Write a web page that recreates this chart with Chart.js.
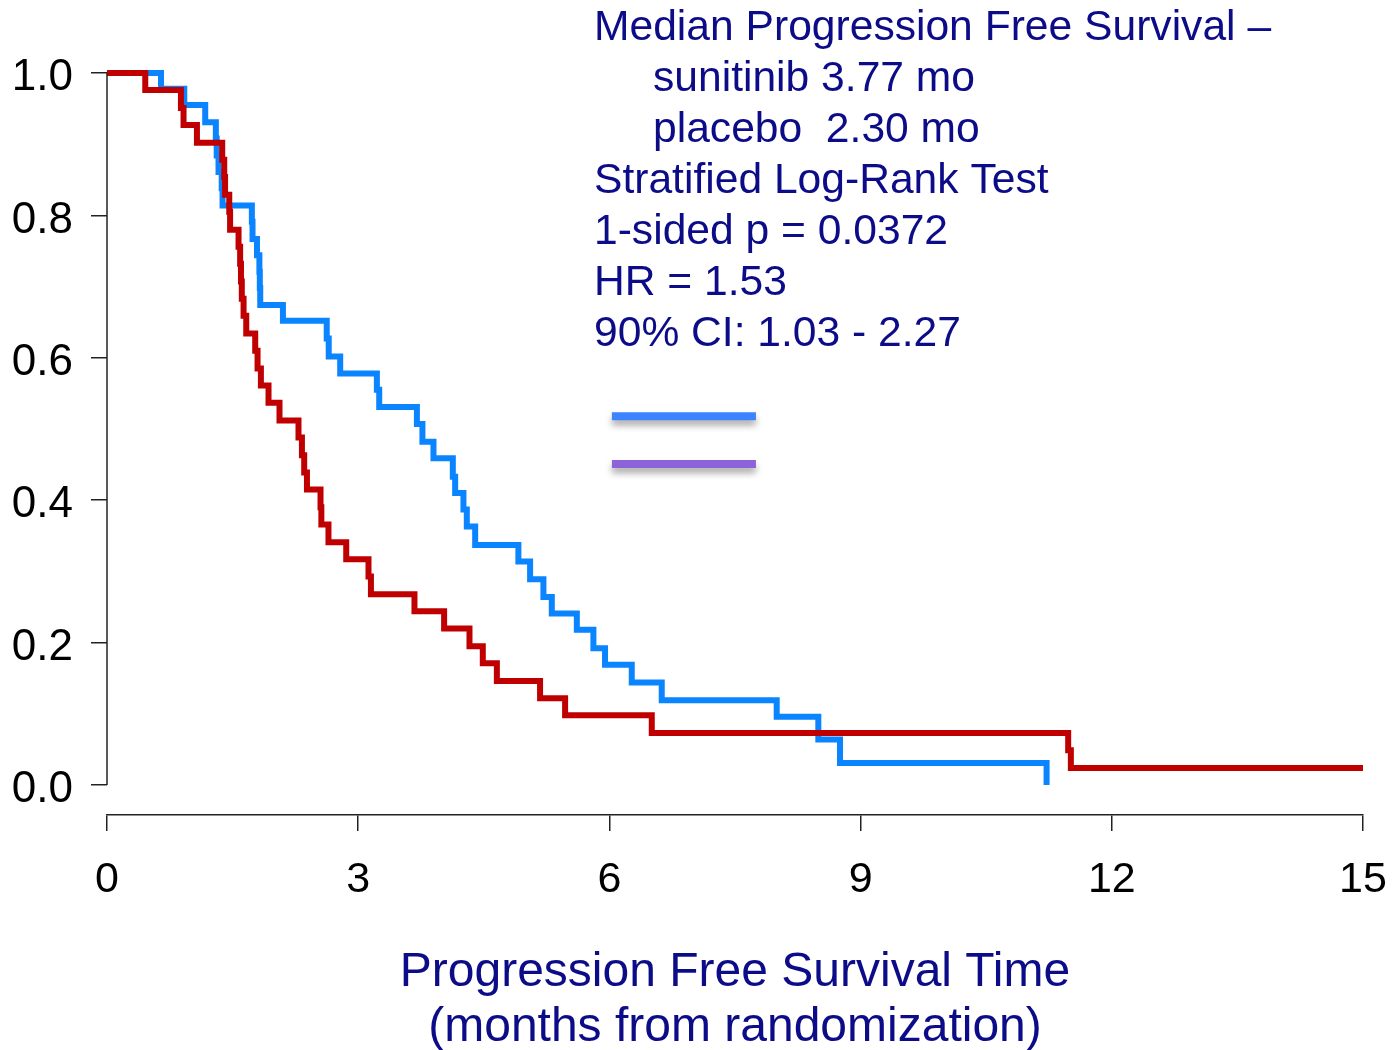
<!DOCTYPE html>
<html>
<head>
<meta charset="utf-8">
<script src="https://cdn.jsdelivr.net/npm/chart.js@4"></script>
<style>
  html, body { margin: 0; padding: 0; background: #fff; }
</style>
</head>
<body>
<canvas id="myChart" width="1394" height="1050"></canvas>
<script>
// Kaplan-Meier curves (months, survival)
const redTime = [0, 0.457, 0.883, 0.914, 1.074, 1.376, 1.40, 1.41, 1.46, 1.47, 1.571, 1.59, 1.60, 1.61, 1.631, 1.663,
  1.770, 1.798, 1.838, 1.929, 2.060, 2.287, 2.328, 2.355, 2.388, 2.55, 2.56, 2.645, 2.857, 3.123, 3.152, 3.672,
  4.026, 4.329, 4.488, 4.656, 5.172, 5.471, 6.506, 11.479, 11.511, 15.0];
const redSurv = [1.0, 0.976, 0.951, 0.927, 0.902, 0.878, 0.854, 0.829, 0.805, 0.780, 0.756, 0.732, 0.707, 0.683, 0.659, 0.634,
  0.610, 0.585, 0.561, 0.537, 0.512, 0.488, 0.463, 0.439, 0.415, 0.390, 0.366, 0.341, 0.317, 0.293, 0.268, 0.244,
  0.220, 0.195, 0.171, 0.146, 0.122, 0.098, 0.073, 0.049, 0.024, 0.024];

const blueTime = [0, 0.645, 0.923, 1.173, 1.30, 1.31, 1.332, 1.37, 1.38, 1.73, 1.738, 1.791, 1.82, 1.825, 1.830, 2.101,
  2.624, 2.648, 2.785, 3.223, 3.251, 3.701, 3.767, 3.899, 4.130, 4.158, 4.257, 4.297, 4.397, 4.913, 5.053, 5.212,
  5.312, 5.611, 5.809, 5.948, 6.267, 6.625, 7.998, 8.495, 8.754, 11.221];
const blueSurv = [1.0, 0.978, 0.955, 0.931, 0.908, 0.884, 0.861, 0.838, 0.814, 0.791, 0.767, 0.744, 0.721, 0.698, 0.674, 0.652,
  0.627, 0.602, 0.578, 0.555, 0.531, 0.507, 0.482, 0.459, 0.433, 0.410, 0.387, 0.363, 0.337, 0.314, 0.289, 0.264,
  0.241, 0.218, 0.192, 0.169, 0.144, 0.119, 0.096, 0.064, 0.031, 0.0];

// the two short coloured bars under the text
const barX = [6.03, 7.75];
const barBlueY = [0.518, 0.518];
const barPurpleY = [0.451, 0.451];

const xTicks = [0, 3, 6, 9, 12, 15];
const yTicks = [0, 0.2, 0.4, 0.6, 0.8, 1.0];

const noteLines = [
  'Median Progression Free Survival \u2013',
  'sunitinib 3.77 mo',
  'placebo  2.30 mo',
  'Stratified Log-Rank Test',
  '1-sided p = 0.0372',
  'HR = 1.53',
  '90% CI: 1.03 - 2.27'
];
const noteIndent = [0, 1, 1, 0, 0, 0, 0];

const xTitle = ['Progression Free Survival Time', '(months from randomization)'];

const FONT = '"Liberation Sans", Arial, sans-serif';
const NAVY = '#0c0c88';

const toPts = (xs, ys) => xs.map((x, i) => ({ x: x, y: ys[i] }));

// y axis line only over 0..1, bar shadows and the text block
const extras = {
  id: 'extras',
  beforeDatasetDraw(chart, args) {
    if (args.index >= 2) {
      const ctx = chart.ctx;
      ctx.save();
      ctx.shadowColor = 'rgba(0,0,0,0.35)';
      ctx.shadowBlur = 7;
      ctx.shadowOffsetY = 5;
    }
  },
  afterDatasetDraw(chart, args) {
    if (args.index >= 2) chart.ctx.restore();
  },
  afterDraw(chart) {
    const ctx = chart.ctx;
    const y = chart.scales.y;
    const left = chart.chartArea.left;
    ctx.save();
    ctx.strokeStyle = '#222';
    ctx.lineWidth = 1.5;
    ctx.beginPath();
    ctx.moveTo(left, y.getPixelForValue(1));
    ctx.lineTo(left, y.getPixelForValue(0));
    ctx.stroke();

    ctx.fillStyle = NAVY;
    ctx.font = '42.6px ' + FONT;
    ctx.textBaseline = 'middle';
    ctx.textAlign = 'left';
    noteLines.forEach((t, i) => {
      ctx.fillText(t, 594 + noteIndent[i] * 59, 28 + i * 51);
    });
    ctx.restore();
  }
};

new Chart(document.getElementById('myChart'), {
  type: 'line',
  data: {
    datasets: [
      { label: 'placebo', data: toPts(redTime, redSurv), borderColor: '#c00000', borderWidth: 6, stepped: true, pointRadius: 0, clip: false },
      { label: 'sunitinib', data: toPts(blueTime, blueSurv), borderColor: '#0a84ff', borderWidth: 6, stepped: true, pointRadius: 0, clip: false },
      { label: 'bar1', data: toPts(barX, barBlueY), borderColor: '#3d82ff', borderWidth: 8, pointRadius: 0, clip: false },
      { label: 'bar2', data: toPts(barX, barPurpleY), borderColor: '#8e62d8', borderWidth: 8, pointRadius: 0, clip: false }
    ]
  },
  options: {
    responsive: false,
    animation: false,
    devicePixelRatio: 1,
    layout: { padding: { top: 73, right: 31, bottom: 0, left: 0 } },
    plugins: { legend: { display: false }, tooltip: { enabled: false } },
    scales: {
      x: {
        type: 'linear',
        min: 0,
        max: 15,
        afterBuildTicks: s => { s.ticks = xTicks.map(v => ({ value: v })); },
        afterFit: s => { s.height = 235; s.paddingLeft = 0; s.paddingRight = 0; },
        ticks: { color: '#000', font: { family: FONT, size: 43 }, padding: 23, maxRotation: 0 },
        grid: { drawOnChartArea: false, drawTicks: true, tickLength: 16, color: '#222', lineWidth: 1.5 },
        border: { display: true, color: '#222', width: 1.5 },
        title: {
          display: true,
          text: xTitle,
          color: NAVY,
          font: { family: FONT, size: 48, lineHeight: 1.146 },
          padding: { top: 0, bottom: -5 }
        }
      },
      y: {
        type: 'linear',
        min: -0.0421,
        max: 1.0,
        afterBuildTicks: s => { s.ticks = yTicks.map(v => ({ value: v })); },
        afterFit: s => { s.width = 107; s.paddingTop = 0; s.paddingBottom = 0; },
        ticks: { color: '#000', font: { family: FONT, size: 44 }, padding: 18, labelOffset: 5, callback: v => v.toFixed(1) },
        grid: { drawOnChartArea: false, drawTicks: true, tickLength: 16, color: '#222', lineWidth: 1.5 },
        border: { display: false }
      }
    }
  },
  plugins: [extras]
});
</script>
</body>
</html>
